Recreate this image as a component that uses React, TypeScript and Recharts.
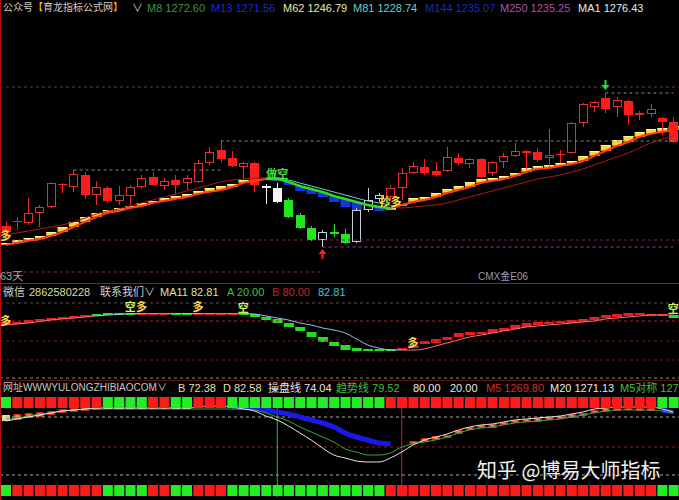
import {
  ComposedChart,
  Bar,
  Line,
  XAxis,
  YAxis,
  ReferenceLine,
  ReferenceDot,
} from "recharts";

// 主图 K线
const opens = [
  1234.5, 1237.0, 1236.0, 1241.0, 1244.0, 1255.5, 1254.0, 1260.0, 1250.0, 1253.5,
  1247.0, 1249.5, 1254.0, 1259.0, 1254.5, 1257.5, 1256.0, 1256.5, 1266.0, 1272.5,
  1268.5, 1264.0, 1266.0, 1254.5, 1253.5, 1247.5, 1240.0, 1233.5, 1227.5, 1231.5,
  1230.5, 1226.5, 1242.5, 1248.0, 1249.0, 1253.5, 1261.0, 1264.0, 1262.0, 1262.0,
  1268.5, 1265.5, 1268.0, 1261.0, 1266.5, 1269.5, 1272.0, 1271.5, 1268.5, 1270.75,
  1271.0, 1286.0, 1294.0, 1298.5, 1294.0, 1297.0, 1291.0, 1290.5, 1288.5, 1286.5,
];
const highs = [
  1236.5, 1239.0, 1248.5, 1245.0, 1256.5, 1256.0, 1262.5, 1261.5, 1257.0, 1254.5,
  1254.5, 1255.0, 1260.0, 1261.5, 1258.5, 1260.0, 1260.0, 1267.5, 1274.0, 1277.0,
  1272.0, 1266.5, 1266.5, 1255.5, 1256.0, 1248.5, 1241.0, 1234.5, 1232.5, 1235.5,
  1233.0, 1243.5, 1253.5, 1251.0, 1255.0, 1263.5, 1266.5, 1268.0, 1266.5, 1274.0,
  1271.0, 1268.5, 1268.5, 1267.0, 1271.0, 1276.0, 1272.5, 1273.5, 1283.0, 1272.5,
  1286.5, 1296.0, 1297.0, 1301.0, 1299.0, 1297.5, 1292.0, 1295.5, 1289.0, 1289.0,
];
const lows = [
  1230.5, 1232.5, 1235.0, 1234.0, 1243.5, 1251.0, 1251.5, 1248.0, 1245.0, 1246.0,
  1245.0, 1245.0, 1253.5, 1254.5, 1252.5, 1250.0, 1252.5, 1256.0, 1265.0, 1266.5,
  1264.0, 1258.0, 1251.5, 1245.5, 1246.0, 1238.5, 1233.0, 1227.0, 1224.0, 1229.0,
  1225.5, 1226.0, 1241.5, 1246.5, 1247.5, 1247.5, 1260.5, 1260.0, 1259.0, 1261.5,
  1265.0, 1263.5, 1258.5, 1259.5, 1263.5, 1269.0, 1263.0, 1266.5, 1263.5, 1266.0,
  1270.5, 1284.0, 1291.5, 1291.0, 1289.0, 1285.0, 1287.5, 1289.0, 1280.0, 1276.0,
];
const closes = [
  1231.5, 1236.5, 1241.0, 1244.0, 1256.0, 1254.75, 1260.5, 1250.0, 1254.0, 1247.0,
  1250.0, 1254.0, 1258.5, 1255.0, 1257.0, 1255.0, 1258.5, 1266.0, 1271.5, 1268.0,
  1264.5, 1266.0, 1255.0, 1253.5, 1246.5, 1239.0, 1233.5, 1227.5, 1231.5, 1230.5,
  1226.0, 1242.5, 1247.5, 1250.0, 1253.5, 1261.0, 1264.5, 1261.0, 1260.0, 1269.0,
  1266.0, 1268.0, 1259.0, 1266.5, 1269.5, 1272.0, 1271.25, 1267.5, 1270.0, 1270.0,
  1286.0, 1295.5, 1296.5, 1293.0, 1297.5, 1290.0, 1290.0, 1293.0, 1286.5, 1276.5,
];
// 1 = 多, -1 = 空, 0 = 转折
const trend = [
  1, 1, 1, 1, 1, 1, 1, 1, 1, 1, 1, 1, 1, 1, 1, 1, 1, 1, 1, 1, 1, 1, 1,
  0, 0,
  -1, -1, -1, -1, -1, -1, -1, -1, -1,
  1, 1, 1, 1, 1, 1, 1, 1, 1, 1, 1, 1, 1, 1, 1, 1, 1, 1, 1, 1, 1, 1, 1, 1, 1, 1,
];
const maFast = [
  1226.0, 1227.5, 1228.5, 1229.5, 1231.5, 1234.0, 1236.5, 1239.0, 1241.0, 1242.5,
  1243.5, 1244.5, 1246.0, 1247.0, 1248.5, 1249.5, 1250.5, 1252.0, 1253.5, 1254.5,
  1255.5, 1257.5, 1258.0, 1258.5, 1257.5, 1255.0, 1252.0, 1250.5, 1249.0, 1246.5,
  1244.0, 1242.5, 1242.5, 1242.0, 1243.0, 1245.5, 1248.5, 1249.0, 1251.0, 1253.0,
  1254.5, 1256.5, 1258.0, 1258.5, 1259.5, 1261.0, 1263.5, 1264.5, 1265.0, 1266.0,
  1267.0, 1269.5, 1272.0, 1275.0, 1277.5, 1279.5, 1281.5, 1283.0, 1283.5, 1284.5,
];
const maMid = [
  1225.0, 1226.0, 1227.0, 1228.0, 1229.5, 1231.5, 1234.0, 1236.5, 1239.0, 1241.0,
  1242.0, 1243.5, 1244.5, 1246.0, 1247.0, 1248.0, 1249.0, 1250.5, 1251.5, 1252.5,
  1254.0, 1256.0, 1257.0, 1258.0, 1258.0, 1256.5, 1254.5, 1253.0, 1251.5, 1249.5,
  1248.0, 1246.5, 1245.0, 1244.0, 1243.5, 1245.0, 1246.5, 1247.5, 1249.0, 1251.0,
  1252.5, 1254.0, 1256.0, 1257.0, 1258.0, 1259.5, 1261.5, 1263.0, 1263.5, 1264.5,
  1265.5, 1267.0, 1269.5, 1272.0, 1274.5, 1276.5, 1279.0, 1280.5, 1281.5, 1282.5,
];
const maSlow = [
  1230.0, 1231.0, 1232.0, 1233.0, 1234.0, 1235.0, 1236.5, 1238.5, 1240.5, 1242.0,
  1243.0, 1244.5, 1246.0, 1247.5, 1249.0, 1250.5, 1252.0, 1253.5, 1255.0, 1256.5,
  1257.5, 1258.0, 1258.5, 1258.5, 1258.5, 1257.5, 1256.0, 1254.5, 1253.0, 1251.5,
  1250.0, 1248.5, 1247.0, 1246.0, 1245.0, 1243.5, 1244.0, 1244.5, 1245.0, 1246.0,
  1247.5, 1249.0, 1250.5, 1252.0, 1253.5, 1255.0, 1256.5, 1258.0, 1259.0, 1260.0,
  1261.5, 1263.0, 1265.0, 1267.0, 1269.0, 1271.0, 1273.5, 1276.0, 1278.0, 1279.5,
];

// 副图1
const ind2Upper = [
  74.7, 74.7, 77.3, 78.7, 80.0, 81.3, 82.7, 84.0, 85.3, 86.7,
  86.7, 86.7, 86.7, 86.7, 86.7, 86.7, 86.7, 86.7, 86.7, 86.7,
  86.7, 86.7, 85.3, 81.3, 78.7, 73.3, 68.0, 61.3, 54.7, 48.0,
  44.0, 40.0, 38.7, 38.7, 38.7, 40.0, 44.0, 49.3, 52.0, 54.7,
  60.0, 61.3, 61.3, 65.3, 66.7, 70.7, 73.3, 74.7, 74.7, 76.0,
  77.3, 78.7, 81.3, 84.0, 85.3, 86.7, 86.7, 85.3, 85.3, 84.0,
];
const ind2Lower = [
  70.7, 72.0, 73.3, 76.0, 77.3, 78.7, 80.0, 81.3, 82.7, 84.0,
  84.0, 85.3, 85.3, 85.3, 85.3, 85.3, 85.3, 85.3, 85.3, 85.3,
  85.3, 84.0, 81.3, 77.3, 73.3, 68.0, 62.7, 54.7, 48.0, 42.7,
  37.3, 36.0, 36.0, 36.0, 37.3, 38.7, 40.0, 45.3, 46.7, 50.7,
  54.7, 57.3, 58.7, 60.0, 62.7, 65.3, 68.0, 70.7, 72.0, 73.3,
  73.3, 74.7, 77.3, 80.0, 81.3, 82.7, 84.0, 84.0, 84.0, 80.0,
];
const ind2Line = [
  70.7, 72.0, 73.3, 75.3, 77.3, 78.7, 80.0, 81.3, 82.7, 84.0,
  84.7, 86.0, 86.0, 86.0, 86.0, 86.0, 86.0, 86.0, 86.0, 86.0,
  86.0, 86.0, 85.3, 82.7, 80.0, 77.3, 73.3, 70.7, 66.7, 64.0,
  60.0, 52.0, 44.0, 40.0, 37.3, 37.3, 37.3, 38.7, 42.7, 46.7,
  50.7, 54.7, 57.3, 60.0, 62.7, 65.3, 68.0, 69.3, 70.7, 72.0,
  73.3, 74.7, 76.0, 78.7, 80.0, 81.3, 82.7, 84.0, 84.0, 84.0,
];
const ind2Trend = [
  1, 1, 1, 1, 1, 1, 1, 1, -1, -1, -1, -1, 1, 1, 1, -1, -1, 1, 1, 1,
  1, -1, -1, -1, -1, -1, -1, -1, -1, -1, -1, -1, -1, -1, -1, 1, 1, 1, 1, 1,
  1, 1, 1, 1, 1, 1, 1, 1, 1, 1, 1, 1, 1, 1, 1, 1, 1, 1, 1, -1,
];

// 副图2
const kdWhite = [
  76, 78, 80, 82, 84, 86, 87, 88, 89, 89,
  89, 89, 89, 89, 89, 89, 89, 90, 91, 91,
  90, 88, 86, 81, 77, 71, 64, 57, 49, 42,
  39, 36, 35, 35, 39, 45, 52, 57, 60, 63,
  67, 70, 72, 73, 75, 77, 78, 79, 80, 81,
  83, 85, 88, 89, 90, 90, 90, 90, 88, 85,
];
const kdGreen = [
  78, 79, 81, 83, 84, 86, 87, 88, 88, 88,
  88, 88, 88, 88, 88, 88, 88, 88, 88, 88,
  88, 88, 87, 84, 80, 76, 70, 65, 60, 55,
  48, 45, 42, 42, 44, 50, 53, 55, 57, 60,
  64, 67, 69, 70, 72, 74, 75, 76, 77, 78,
  80, 82, 84, 86, 87, 87, 87, 87, 86, 84,
];
const kdBlue = [
  null, null, null, null, null, null, null, null, null, null,
  null, null, null, null, null, null, null, null, null, null,
  90, 90, 89, 87, 85, 83, 80, 77, 74, 70,
  64, 60, 57, 54, 53, null, null, null, null, null,
  null, null, null, null, null, null, null, null, null, null,
  null, null, null, null, null, null, null, null, 87, 85,
];
const kdBandHi = [
  82, 83, 84, 85, 86, 88, 89, 90, 90, 90,
  90, 90, 90, 90, 90, 90, 90, 91, 92, 92,
  null, null, null, null, null, null, null, null, null, null,
  null, null, null, null, null, null, 56, 59, 61, 62,
  67, 70, 72, 73, 75, 77, 78, 79, 80, 81,
  83, 84, 87, 89, 89, 89, 89, 89, null, null,
];
const kdBandLo = [
  76, 77, 79, 80, 82, 84, 85, 86, 87, 88,
  88, 88, 88, 88, 88, 88, 88, 89, 89, 89,
  null, null, null, null, null, null, null, null, null, null,
  null, null, null, null, null, null, 53, 55, 57, 59,
  63, 67, 69, 69, 72, 74, 75, 75, 77, 78,
  79, 81, 84, 85, 86, 87, 86, 86, null, null,
];
const sqSignal = [
  -1, 1, 1, 1, 1, 1, 1, 1, 1, -1, -1, -1, -1, 1, 1, -1, -1, 1, 1, 1,
  -1, -1, -1, -1, -1, -1, -1, -1, -1, -1, -1, -1, -1, -1, 1, 1, 1, 1, 1, 1,
  1, 1, 1, 1, 1, 1, 1, 1, 1, 1, 1, 1, 1, 1, 1, 1, 1, 1, -1, -1,
];

const W = 679;
const CJK = '"Noto Sans CJK SC", sans-serif';

function split(vals: (number | null)[], sig: number[], want: (t: number) => boolean) {
  return vals.map((v, i) =>
    v != null && (want(sig[i]) || (i > 0 && want(sig[i - 1]))) ? v : null
  );
}
const isBull = (t: number) => t > 0;
const isBear = (t: number) => t <= 0;

const midBull = split(maMid, trend, isBull);
const midBear = split(maMid, trend, isBear);
const slowBull = split(maSlow, trend, isBull);
const slowBear = split(maSlow, trend, isBear);
const line2Bull = split(ind2Line, ind2Trend, isBull);
const line2Bear = split(ind2Line, ind2Trend, isBear);

const rows = opens.map((open, i) => ({
  idx: i,
  open,
  high: highs[i],
  low: lows[i],
  close: closes[i],
  trend: trend[i],
  fast: maFast[i],
  mid: maMid[i],
  midBull: midBull[i],
  midBear: midBear[i],
  slowBull: slowBull[i],
  slowBear: slowBear[i],
  up2: ind2Upper[i],
  lo2: ind2Lower[i],
  t2: ind2Trend[i],
  line2Bull: line2Bull[i],
  line2Bear: line2Bear[i],
  white3: kdWhite[i],
  green3: kdGreen[i],
  blue3: kdBlue[i],
  hi3: kdBandHi[i],
  lo3: kdBandLo[i],
  sq: sqSignal[i],
}));

function Candle(props: any) {
  const { x, y, width, height, payload } = props;
  if (!payload || height == null) return null;
  const { open, close, high, low, trend: t } = payload;
  const top = Math.min(y, y + height);
  const k = Math.abs(height) / (high - low);
  const toY = (p: number) => top + (high - p) * k;
  const cx = Math.round(x + width / 2);
  const bTop = Math.round(toY(Math.max(open, close)));
  const bBot = Math.round(toY(Math.min(open, close)));
  const up = close > open;
  let color = "#f4f4f4";
  if (t > 0) color = up ? "#e8302a" : "#ff1c1c";
  else if (t < 0) color = up ? "#c4cedc" : "#22e622";
  const L = cx - 4;
  const hiY = toY(high);
  const loY = toY(low);
  if (bBot - bTop < 2) {
    return (
      <g>
        <line x1={cx + 0.5} x2={cx + 0.5} y1={hiY} y2={loY} stroke={color} />
        <rect x={L} y={bTop} width={9} height={Math.max(1, bBot - bTop)} fill={color} />
      </g>
    );
  }
  return (
    <g>
      <line x1={cx + 0.5} x2={cx + 0.5} y1={hiY} y2={bTop} stroke={color} />
      <line x1={cx + 0.5} x2={cx + 0.5} y1={bBot} y2={loY} stroke={color} />
      {up ? (
        <rect x={L + 0.5} y={bTop + 0.5} width={8} height={bBot - bTop - 1} fill="#000" stroke={color} />
      ) : (
        <rect x={L} y={bTop} width={9} height={bBot - bTop} fill={color} />
      )}
    </g>
  );
}

function MaBlock(props: any) {
  const { x, y, width, height, payload } = props;
  if (!payload || height == null) return null;
  const top = Math.min(y, y + height);
  const h = Math.max(2, Math.abs(height));
  if (payload.trend > 0) {
    return (
      <g>
        <rect x={x} y={top} width={width} height={h} fill="#ffd23c" />
        <rect x={x} y={top} width={width} height={1} fill="#fff59a" />
        <rect x={x} y={top + h - 1} width={width} height={1} fill="#e89000" />
      </g>
    );
  }
  return <rect x={x} y={top} width={width} height={h} fill="#1a30e6" />;
}

function Block2(props: any) {
  const { x, y, width, height, payload } = props;
  if (!payload || height == null) return null;
  const top = Math.min(y, y + height);
  const h = Math.max(2, Math.abs(height));
  return <rect x={x} y={top} width={width} height={h} fill={payload.t2 > 0 ? "#ee1c1c" : "#22e022"} />;
}

function Block3(props: any) {
  const { x, y, width, height, payload } = props;
  if (!payload || height == null) return null;
  const top = Math.min(y, y + height);
  const h = Math.max(2, Math.abs(height));
  if (payload.sq < 0) return <rect x={x} y={top} width={width} height={h} fill="#e8dca0" />;
  return (
    <g>
      <rect x={x} y={top} width={width} height={h} fill="#d8241a" />
      <rect x={x + 2} y={top + 1} width={width - 4} height={Math.max(1, h - 2)} fill="#f08a3c" />
    </g>
  );
}

function Square(props: any) {
  const { x, y, width, height, payload } = props;
  if (!payload) return null;
  return <rect x={x} y={y} width={width} height={height} fill={payload.sq > 0 ? "#ff1a1a" : "#22ee22"} />;
}

const mark = (txt: string, color: string, size = 11) => (p: any) => (
  <text
    x={p.cx}
    y={p.cy}
    fill={color}
    fontSize={size}
    fontWeight={700}
    fontFamily={CJK}
    textAnchor="middle"
    dominantBaseline="central"
  >
    {txt}
  </text>
);

const arrowUp = (p: any) => (
  <g fill="#ff2020">
    <path d={`M${p.cx - 4},${p.cy} L${p.cx},${p.cy - 5} L${p.cx + 4},${p.cy} Z`} />
    <rect x={p.cx - 1} y={p.cy} width={2} height={5} />
  </g>
);
const arrowDown = (p: any) => (
  <g fill="#22dd44">
    <path d={`M${p.cx - 4},${p.cy} L${p.cx},${p.cy + 5} L${p.cx + 4},${p.cy} Z`} />
    <rect x={p.cx - 1} y={p.cy - 5} width={2} height={5} />
  </g>
);

function T({ x, y, c, s = 11, children }: any) {
  return (
    <span style={{ position: "absolute", left: x, top: y, color: c, fontSize: s, lineHeight: "12px", whiteSpace: "nowrap" }}>
      {children}
    </span>
  );
}

const noM = { top: 0, right: 0, bottom: 0, left: 0 };

export default function App() {
  return (
    <div
      style={{
        position: "fixed",
        left: 0,
        top: 0,
        width: W,
        height: 500,
        background: "#000",
        overflow: "hidden",
        fontFamily: '"Liberation Sans", "Noto Sans CJK SC", sans-serif',
      }}
    >
      {/* 主图 */}
      <div style={{ position: "absolute", left: 0, top: 0 }}>
        <ComposedChart width={W} height={283} data={rows} margin={noM}>
          <XAxis dataKey="idx" hide />
          <XAxis xAxisId="b" dataKey="idx" hide />
          <YAxis hide domain={[1206, 1347.5]} allowDataOverflow />
          <ReferenceLine y={1304} stroke="#6e3a4c" strokeDasharray="3 3" />
          <ReferenceLine y={1227.5} stroke="#6e2a48" strokeDasharray="3 3" />
          <ReferenceLine segment={[{ x: 6, y: 1262.5 }, { x: 19, y: 1262.5 }]} stroke="#7c8a7c" strokeDasharray="3 3" />
          <ReferenceLine segment={[{ x: 19, y: 1277 }, { x: 59, y: 1277 }]} stroke="#7c8a7c" strokeDasharray="3 3" />
          <ReferenceLine segment={[{ x: 53, y: 1301 }, { x: 59, y: 1301 }]} stroke="#8a8a8a" strokeDasharray="3 3" />
          <ReferenceLine segment={[{ x: 28, y: 1224 }, { x: 59, y: 1224 }]} stroke="#9a3c9a" strokeDasharray="3 3" />
          <ReferenceLine segment={[{ x: 0, y: 1211.5 }, { x: 28, y: 1211.5 }]} stroke="#86304e" strokeDasharray="3 3" />
          <Line dataKey="slowBull" stroke="#b01818" strokeWidth={1} dot={false} type="monotone" isAnimationActive={false} />
          <Line dataKey="slowBear" stroke="#78d0c8" strokeWidth={1} dot={false} type="monotone" isAnimationActive={false} />
          <Bar
            xAxisId="b"
            dataKey={(d: any) => [Math.min(d.fast, d.mid), Math.max(d.fast, d.mid)]}
            barSize={10}
            shape={MaBlock}
            isAnimationActive={false}
          />
          <Line dataKey="midBull" stroke="#ff3a10" strokeWidth={2} dot={false} type="monotone" isAnimationActive={false} />
          <Line dataKey="midBear" stroke="#22e022" strokeWidth={2.5} dot={false} type="monotone" isAnimationActive={false} />
          <Bar dataKey={(d: any) => [d.low, d.high]} barSize={9} shape={Candle} isAnimationActive={false} />
          <ReferenceDot x={0} y={1230} r={0} shape={mark("多", "#ffe040")} />
          <ReferenceDot x={24} y={1261.25} r={0} shape={mark("做空", "#40e040")} />
          <ReferenceDot x={34} y={1247} r={0} shape={mark("抄多", "#ffe040")} />
          <ReferenceDot x={28} y={1220.5} r={0} shape={arrowUp} />
          <ReferenceDot x={53} y={1305} r={0} shape={arrowDown} />
        </ComposedChart>
      </div>

      {/* 副图1 */}
      <div style={{ position: "absolute", left: 0, top: 284 }}>
        <ComposedChart width={W} height={96} data={rows} margin={noM}>
          <XAxis dataKey="idx" hide />
          <XAxis xAxisId="b" dataKey="idx" hide />
          <YAxis hide domain={[-8 / 3, 376 / 3]} allowDataOverflow />
          <ReferenceLine y={100} stroke="#5e4a4a" strokeDasharray="3 3" />
          <ReferenceLine y={76} stroke="#b02424" strokeDasharray="3 3" />
          <ReferenceLine y={49.3} stroke="#6e1c1c" strokeDasharray="3 3" />
          <ReferenceLine y={24} stroke="#6e1c1c" strokeDasharray="3 3" />
          <ReferenceLine y={0} stroke="#8a8a8a" strokeDasharray="3 3" />
          <Bar
            xAxisId="b"
            dataKey={(d: any) => [d.lo2, d.up2]}
            barSize={10}
            shape={Block2}
            isAnimationActive={false}
          />
          <Line dataKey="line2Bull" stroke="#ff7070" strokeWidth={1} dot={false} type="monotone" isAnimationActive={false} />
          <Line dataKey="line2Bear" stroke="#8cc8e8" strokeWidth={1} dot={false} type="monotone" isAnimationActive={false} />
          <ReferenceDot x={0} y={77.3} r={0} shape={mark("多", "#ffd850")} />
          <ReferenceDot x={11} y={96} r={0} shape={mark("空", "#c8f060")} />
          <ReferenceDot x={12} y={96} r={0} shape={mark("多", "#ffd850")} />
          <ReferenceDot x={17} y={96} r={0} shape={mark("多", "#ffd850")} />
          <ReferenceDot x={21} y={94.7} r={0} shape={mark("空", "#c8f060")} />
          <ReferenceDot x={36} y={48} r={0} shape={mark("多", "#ffd850")} />
          <ReferenceDot x={59} y={93.3} r={0} shape={mark("空", "#c8f060")} />
        </ComposedChart>
      </div>

      {/* 副图2 */}
      <div style={{ position: "absolute", left: 0, top: 397 }}>
        <ComposedChart width={W} height={100} data={rows} margin={noM}>
          <XAxis dataKey="idx" hide />
          <XAxis xAxisId="b" dataKey="idx" hide />
          <YAxis hide domain={[0, 100]} allowDataOverflow />
          <ReferenceLine y={80} stroke="#a8a8a8" strokeDasharray="3 3" />
          <ReferenceLine y={50} stroke="#8a2020" strokeDasharray="3 3" />
          <ReferenceLine y={22} stroke="#a8a8a8" strokeDasharray="3 3" />
          <ReferenceLine x={24} stroke="#30c030" />
          <ReferenceLine x={35} stroke="#d02020" />
          <Bar
            xAxisId="b"
            dataKey={(d: any) => (d.hi3 == null ? null : [d.lo3, d.hi3])}
            barSize={8}
            shape={Block3}
            isAnimationActive={false}
          />
          <Line dataKey="blue3" stroke="#1a1ae6" strokeWidth={5} dot={false} type="monotone" isAnimationActive={false} />
          <Line dataKey="green3" stroke="#3aa83a" strokeWidth={1} dot={false} type="monotone" isAnimationActive={false} />
          <Line dataKey="white3" stroke="#e6e6e6" strokeWidth={1} dot={false} type="monotone" isAnimationActive={false} />
        </ComposedChart>
      </div>
      <div style={{ position: "absolute", left: 0, top: 397 }}>
        <ComposedChart width={W} height={11} data={rows} margin={noM}>
          <XAxis dataKey="idx" hide />
          <YAxis hide domain={[0, 1]} />
          <Bar dataKey={() => 1} barSize={10} shape={Square} isAnimationActive={false} />
        </ComposedChart>
      </div>
      <div style={{ position: "absolute", left: 0, top: 485 }}>
        <ComposedChart width={W} height={11} data={rows} margin={noM}>
          <XAxis dataKey="idx" hide />
          <YAxis hide domain={[0, 1]} />
          <Bar dataKey={() => 1} barSize={10} shape={Square} isAnimationActive={false} />
        </ComposedChart>
      </div>

      {/* 边框 */}
      <div style={{ position: "absolute", left: 0, top: 283, width: W, height: 1, background: "#a01818" }} />
      <div style={{ position: "absolute", left: 0, top: 380, width: W, height: 1, background: "#5a1010" }} />
      <div style={{ position: "absolute", left: 0, top: 0, width: 1, height: 500, background: "#b01010" }} />

      {/* 文字 */}
      <T x={3} y={2} c="#d0d0d0" s={10}>
        公众号<span style={{ color: "#e8c020" }}>【</span>育龙指标公式网<span style={{ color: "#e8c020" }}>】</span>
      </T>
      <T x={132} y={2} c="#d0d0d0">∨</T>
      <T x={147} y={2} c="#3c9a3c">M8 1272.60</T>
      <T x={211} y={2} c="#1c2ccc">M13 1271.56</T>
      <T x={283} y={2} c="#e8e8b0">M62 1246.79</T>
      <T x={353} y={2} c="#60d0d0">M81 1228.74</T>
      <T x={425} y={2} c="#1c2cb0">M144 1235.07</T>
      <T x={500} y={2} c="#b050b0">M250 1235.25</T>
      <T x={578} y={2} c="#e8e8e8">MA1 1276.43</T>
      <T x={0} y={270} c="#a8a8a8">63天</T>
      <T x={478} y={271} c="#9a9aa8" s={10}>CMX金E06</T>

      <T x={3} y={286} c="#d0d0d0">微信</T>
      <T x={29} y={286} c="#d8d8a0">2862580228</T>
      <T x={100} y={286} c="#d0d0d0">联系我们∨</T>
      <T x={160} y={286} c="#e0e0a0">MA11 82.81</T>
      <T x={227} y={286} c="#40c040">A 20.00</T>
      <T x={272} y={286} c="#c82020">B 80.00</T>
      <T x={318} y={286} c="#40c8d0">82.81</T>

      <T x={3} y={382} c="#c8c8c8" s={10}>网址WWWYULONGZHIBIAOCOM∨</T>
      <T x={178} y={382} c="#e0e0b0">B 72.38</T>
      <T x={223} y={382} c="#e0e0b0">D 82.58</T>
      <T x={268} y={382} c="#e8e8e8">操盘线 74.04</T>
      <T x={336} y={382} c="#40c040">趋势线 79.52</T>
      <T x={413} y={382} c="#e8e8e8">80.00</T>
      <T x={450} y={382} c="#e8e8e8">20.00</T>
      <T x={486} y={382} c="#d03030">M5 1269.80</T>
      <T x={550} y={382} c="#e8e8e8">M20 1271.13</T>
      <T x={620} y={382} c="#40c040">M5对称 127</T>

      <span
        style={{
          position: "absolute",
          left: 477,
          top: 458,
          color: "#f2f2f2",
          fontSize: 20,
          lineHeight: "24px",
          fontFamily: CJK,
          whiteSpace: "nowrap",
          textShadow: "0 0 2px #000",
        }}
      >
        知乎 @博易大师指标
      </span>
    </div>
  );
}
